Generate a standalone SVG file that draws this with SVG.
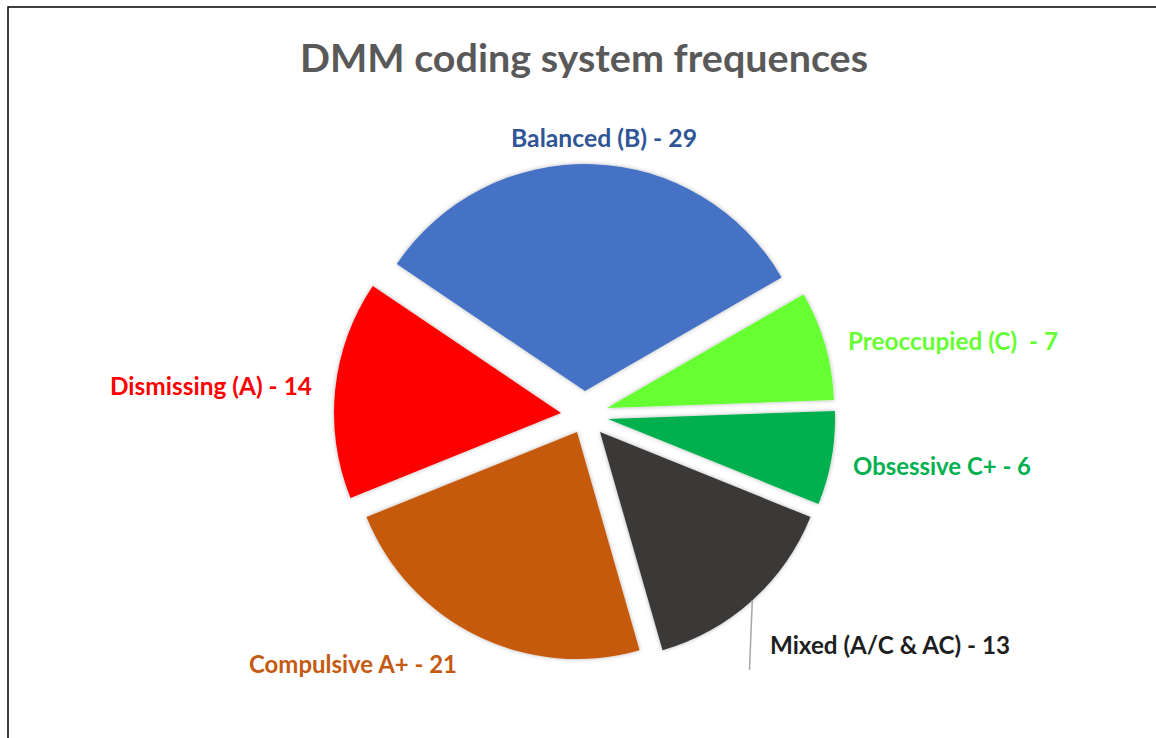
<svg xmlns="http://www.w3.org/2000/svg" width="1156" height="738" viewBox="0 0 1156 738">
<style>
.lbl{font-family:Lato,"Open Sans","Liberation Sans",sans-serif;font-weight:700;font-size:24px;white-space:pre}
.ttl{font-family:Lato,"Open Sans","Liberation Sans",sans-serif;font-weight:700;font-size:39px;fill:#595959}
.slice{filter:url(#sh)}
</style>
<defs>
<filter id="sh" x="-10%" y="-10%" width="120%" height="120%">
<feDropShadow dx="0" dy="0" stdDeviation="2" flood-color="#000" flood-opacity="0.3"/>
</filter>
</defs>
<rect x="0" y="0" width="1156" height="738" fill="#fff"/>
<rect x="8" y="7" width="1160" height="740" fill="none" stroke="#000" stroke-width="1.5"/>
<text class="ttl" x="300" y="72" textLength="568" lengthAdjust="spacingAndGlyphs">DMM coding system frequences</text>
<g id="balanced">
<path class="slice" d="M585,391 L396.81,264.06 A227,227 0 0 1 781.59,277.5 Z" fill="#4472C4"/>
<text class="lbl" x="511" y="147" fill="#2F5597" textLength="186" lengthAdjust="spacingAndGlyphs">Balanced (B) - 29</text>
</g>
<g id="preoccupied">
<path class="slice" d="M607,408 L803.59,294.5 A227,227 0 0 1 833.86,400.08 Z" fill="#66FF33"/>
<text class="lbl" x="848" y="350" fill="#66FF33" textLength="210" lengthAdjust="spacingAndGlyphs">Preoccupied (C)  - 7</text>
</g>
<g id="obsessive">
<path class="slice" d="M608,419 L834.86,411.08 A227,227 0 0 1 818.47,504.04 Z" fill="#00B050"/>
<text class="lbl" x="853" y="475" fill="#00B050" textLength="178" lengthAdjust="spacingAndGlyphs">Obsessive C+ - 6</text>
</g>
<g id="mixed">
<path class="slice" d="M600,432 L810.47,517.04 A227,227 0 0 1 662.57,650.21 Z" fill="#3B3838"/>
<text class="lbl" x="770" y="654" fill="#1E1E1E" textLength="240" lengthAdjust="spacingAndGlyphs">Mixed (A/C &amp; AC) - 13</text>
</g>
<g id="compulsive">
<path class="slice" d="M577,432 L639.57,650.21 A227,227 0 0 1 366.53,517.04 Z" fill="#C55A11"/>
<text class="lbl" x="249" y="673" fill="#C55A11" textLength="208" lengthAdjust="spacingAndGlyphs">Compulsive A+ - 21</text>
</g>
<g id="dismissing">
<path class="slice" d="M561,413 L350.53,498.04 A227,227 0 0 1 372.81,286.06 Z" fill="#FF0000"/>
<text class="lbl" x="110" y="395" fill="#FF0000" textLength="202" lengthAdjust="spacingAndGlyphs">Dismissing (A) - 14</text>
</g>
<g id="connectors">
<line x1="752.3" y1="600" x2="749.5" y2="670" stroke="#A6A6A6" stroke-width="1.5"/>
</g>
</svg>
